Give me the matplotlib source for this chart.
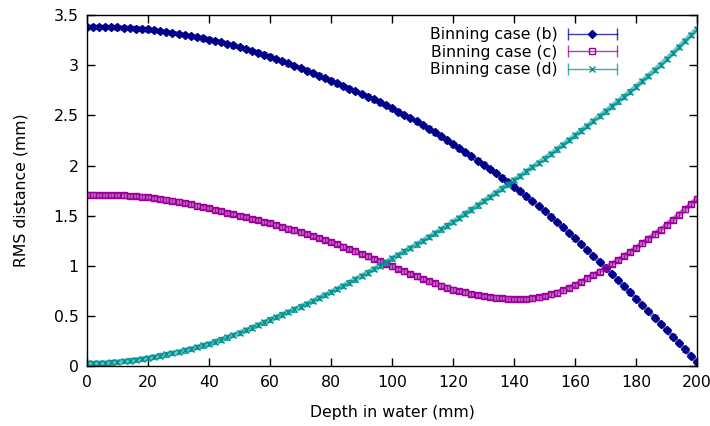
import numpy as np
import matplotlib
matplotlib.use("Agg")
import matplotlib.pyplot as plt
from matplotlib.lines import Line2D
from matplotlib.legend_handler import HandlerBase

# depth in water (mm), one point every 2 mm
depth = list(range(0, 201, 2))

# RMS distance (mm), binning case (b)
rms_b = [3.380, 3.380, 3.379, 3.378, 3.377,
         3.375, 3.372, 3.368, 3.364, 3.360,
         3.355, 3.347, 3.338, 3.329, 3.320,
         3.310, 3.300, 3.289, 3.278, 3.267,
         3.255, 3.242, 3.228, 3.212, 3.196,
         3.180, 3.162, 3.143, 3.124, 3.105,
         3.085, 3.063, 3.040, 3.017, 2.994,
         2.970, 2.946, 2.921, 2.896, 2.871,
         2.845, 2.819, 2.793, 2.767, 2.741,
         2.715, 2.687, 2.658, 2.629, 2.600,
         2.570, 2.538, 2.505, 2.472, 2.439,
         2.405, 2.368, 2.330, 2.291, 2.251,
         2.210, 2.170, 2.130, 2.090, 2.050,
         2.010, 1.967, 1.923, 1.879, 1.835,
         1.790, 1.742, 1.693, 1.644, 1.595,
         1.545, 1.492, 1.438, 1.384, 1.330,
         1.275, 1.217, 1.158, 1.099, 1.040,
         0.980, 0.919, 0.858, 0.797, 0.736,
         0.675, 0.612, 0.549, 0.486, 0.423,
         0.360, 0.296, 0.232, 0.168, 0.104,
         0.040]

# binning case (c)
rms_c = [1.710, 1.710, 1.709, 1.708, 1.707,
         1.705, 1.702, 1.698, 1.694, 1.690,
         1.685, 1.677, 1.669, 1.660, 1.650,
         1.640, 1.627, 1.614, 1.601, 1.588,
         1.575, 1.560, 1.545, 1.530, 1.515,
         1.500, 1.485, 1.470, 1.455, 1.440,
         1.425, 1.407, 1.389, 1.371, 1.353,
         1.335, 1.316, 1.297, 1.278, 1.259,
         1.240, 1.216, 1.192, 1.168, 1.144,
         1.120, 1.095, 1.070, 1.045, 1.020,
         0.995, 0.970, 0.945, 0.920, 0.895,
         0.870, 0.847, 0.826, 0.805, 0.785,
         0.765, 0.750, 0.736, 0.723, 0.711,
         0.700, 0.692, 0.685, 0.679, 0.674,
         0.670, 0.670, 0.672, 0.677, 0.687,
         0.700, 0.716, 0.735, 0.757, 0.782,
         0.810, 0.842, 0.875, 0.909, 0.944,
         0.980, 1.018, 1.057, 1.097, 1.138,
         1.180, 1.224, 1.269, 1.315, 1.362,
         1.410, 1.460, 1.511, 1.563, 1.616,
         1.670]

# binning case (d)
rms_d = [0.030, 0.031, 0.033, 0.036, 0.040,
         0.045, 0.051, 0.058, 0.066, 0.075,
         0.085, 0.096, 0.107, 0.119, 0.132,
         0.145, 0.160, 0.175, 0.191, 0.208,
         0.225, 0.246, 0.267, 0.289, 0.312,
         0.335, 0.360, 0.385, 0.411, 0.438,
         0.465, 0.490, 0.516, 0.542, 0.568,
         0.595, 0.623, 0.651, 0.680, 0.710,
         0.740, 0.771, 0.803, 0.835, 0.867,
         0.900, 0.934, 0.969, 1.004, 1.039,
         1.075, 1.110, 1.145, 1.180, 1.215,
         1.250, 1.287, 1.325, 1.363, 1.401,
         1.440, 1.480, 1.521, 1.562, 1.603,
         1.645, 1.687, 1.729, 1.771, 1.813,
         1.855, 1.898, 1.941, 1.984, 2.027,
         2.070, 2.115, 2.161, 2.207, 2.253,
         2.300, 2.348, 2.396, 2.444, 2.492,
         2.540, 2.589, 2.638, 2.687, 2.736,
         2.785, 2.839, 2.894, 2.949, 3.004,
         3.060, 3.120, 3.180, 3.240, 3.300,
         3.360]

err = 0.022
labels = ["Binning case (b)", "Binning case (c)", "Binning case (d)"]
colors = ["#00008b", "#990099", "#009393"]
markers = ["D", "s", "x"]


# gnuplot style key sample: horizontal bar with end caps, point in the middle
class ErrKey(HandlerBase):
    def create_artists(self, legend, orig, xd, yd, w, h, fontsize, trans):
        y = h / 2 - yd
        x0, x1 = -xd, w - xd
        c = orig.get_color()
        bar = Line2D([x0, x1], [y, y], color=c, lw=1, alpha=0.75)
        caps = Line2D([x0, x1], [y, y], ls="none", marker="|", ms=8,
                      mew=1, color=c, alpha=0.75)
        pt = Line2D([(x0 + x1) / 2], [y], ls="none", marker=orig.get_marker(),
                    ms=orig.get_markersize(), mfc=orig.get_markerfacecolor(),
                    mec=c, mew=1)
        for a in (bar, caps, pt):
            a.set_transform(trans)
        return [bar, caps, pt]


plt.rcParams["font.family"] = "DejaVu Sans"
plt.rcParams["font.size"] = 11.3

fig = plt.figure(figsize=(7.1, 4.26), dpi=100)
ax = fig.add_axes([0.1225, 0.140, 0.8595, 0.825])

handles = []
for y, c, m in zip([rms_b, rms_c, rms_d], colors, markers):
    mfc = "none" if m == "s" else c
    # the points sit so close together that they merge into a band
    ax.plot(depth, y, color=c, lw=3.6, alpha=0.55, solid_capstyle="butt")
    ax.errorbar(depth, y, yerr=err, fmt="none", ecolor=c, elinewidth=0.9,
                capsize=2.5, capthick=0.9, alpha=0.8)
    ax.plot(depth, y, ls="none", marker=m, ms=4.8 if m != "D" else 4.2,
            mfc=mfc, mec=c, mew=1.0)
    handles.append(Line2D([], [], color=c, marker=m, mfc=mfc,
                          ms=4.5 if m != "D" else 3.6))

ax.legend(handles, labels, handler_map={Line2D: ErrKey()}, loc="upper right",
          bbox_to_anchor=(0.886, 0.996), frameon=False, markerfirst=False,
          handlelength=3.1, handletextpad=0.65, labelspacing=0.15,
          borderpad=0.2)

ax.set_xlim(0, 200)
ax.set_ylim(0, 3.5)
ax.set_xticks(np.arange(0, 201, 20))
ax.set_yticks(np.arange(0, 3.51, 0.5))
ax.set_yticklabels(["0", "0.5", "1", "1.5", "2", "2.5", "3", "3.5"])
ax.tick_params(direction="in", top=True, right=True, length=6, width=1,
               pad=6)
for s in ax.spines.values():
    s.set_linewidth(1)
ax.set_xlabel("Depth in water (mm)", labelpad=11)
ax.set_ylabel("RMS distance (mm)", labelpad=18)

fig.savefig("out.png", dpi=100)
plt.close()
